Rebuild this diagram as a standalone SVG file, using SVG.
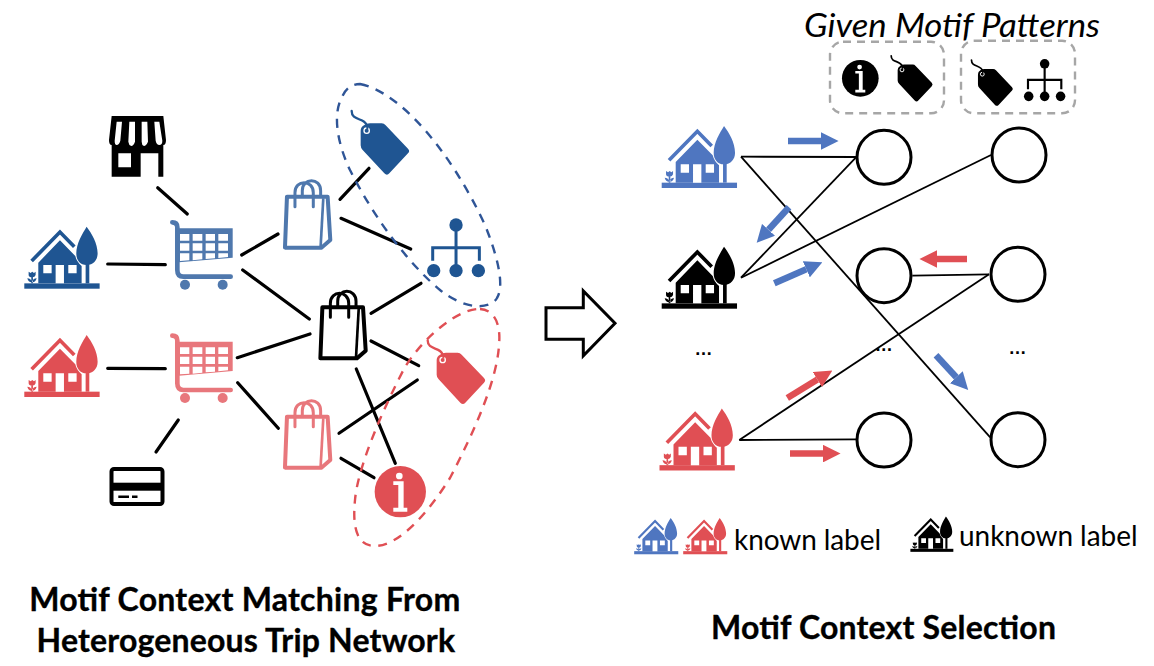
<svg xmlns="http://www.w3.org/2000/svg" width="1154" height="666" viewBox="0 0 1154 666">
<style>
text{font-family:"Lato","Open Sans","Liberation Sans",sans-serif;fill:#000}
.title{font-size:32px;font-weight:700;text-anchor:middle;stroke:#000;stroke-width:.35}
.dots{font-family:"Liberation Sans",sans-serif;font-size:18px;font-weight:700;text-anchor:middle}
.k{color:#000}.db{color:#1f5592}.dr{color:#e04f54}.mb{color:#4f78ad}.pr{color:#e8777c}.rb{color:#4f76c0}
.edge{stroke:#000;stroke-width:3.2;stroke-linecap:round;fill:none}
.thin{stroke:#000;stroke-width:1.8;fill:none}
.node{fill:#fff;stroke:#000;stroke-width:3}
.ab{stroke:#4f76c0;stroke-width:6.5;marker-end:url(#hb)}
.ar{stroke:#e04f54;stroke-width:6.5;marker-end:url(#hr)}
.box{fill:none;stroke:#a6a6a6;stroke-width:2.4;stroke-dasharray:8 6}
.motif{fill:none;stroke-width:2.4;stroke-dasharray:9 7.500}
</style>
<defs>
<marker id="hb" markerUnits="strokeWidth" viewBox="0 0 2.7 2.7" refX="0" refY="1.35" markerWidth="2.7" markerHeight="2.7" orient="auto"><path d="M0,0L2.7,1.35L0,2.7Z" fill="#4f76c0"/></marker>
<marker id="hr" markerUnits="strokeWidth" viewBox="0 0 2.7 2.7" refX="0" refY="1.35" markerWidth="2.7" markerHeight="2.7" orient="auto"><path d="M0,0L2.7,1.35L0,2.7Z" fill="#e04f54"/></marker>
<g id="house" transform="translate(-73,-410)">
<rect x="73" y="580" width="226" height="16" fill="currentColor"/>
<path d="M95,513L180,426L223,470" fill="none" stroke="currentColor" stroke-width="11"/>
<path d="M115,518L180,451L226,498Q230,515 245,528L245,580L115,580Z" fill="currentColor"/>
<path d="M130,525h25v25h-25zM167,525h25v55h-25zM205,525h25v25h-25z" fill="#fff"/>
<path d="M260,410C275,430 293,460 293,490C293,510 280,525 260,525C240,525 229,510 229,490C229,460 248,430 260,410Z" fill="currentColor"/>
<rect x="257" y="520" width="11" height="60" fill="currentColor"/>
<path d="M86,545l6,4l5,-4l5,4l5,-4v10q-2,7 -10,7q-11,0 -11,-7zM94,560h5v20h-5zM82,565q10,0 13,9v3q-10,0 -13,-12zM110,565q-10,0 -13,9v3q10,0 13,-12z" fill="currentColor"/>
</g>
<g id="cart" transform="translate(-510,-390)">
<path d="M517,397Q532,397 532,412L532,540Q532,560 550,560L692,560" fill="none" stroke="currentColor" stroke-width="14" stroke-linecap="round"/>
<path d="M530,415H698V503L537,517Z" fill="currentColor"/>
<path d="M540,432h28v20h-28zM578,432h29v20h-29zM617,432h28v20h-28zM655,432h29v20h-29zM540,460h28v22h-28zM578,460h29v22h-29zM617,460h28v22h-28zM655,460h29v22h-29zM540,490h28v21l-28,2zM578,490h29v18l-29,3zM617,490h28v15l-28,2zM655,490h29v11l-29,3z" fill="#fff"/>
<circle cx="555" cy="584" r="15" fill="currentColor"/>
<circle cx="668" cy="584" r="15" fill="currentColor"/>
</g>
<g id="bag" transform="translate(-40,-328)">
<path d="M51,380L45,533H155L181,510L173,380Z" fill="none" stroke="currentColor" stroke-width="12" stroke-linejoin="round"/>
<path d="M160,385L152,530" fill="none" stroke="currentColor" stroke-width="8"/>
<path d="M75,410V368C75,328 130,328 130,368V410M97,378V362C97,322 152,322 152,362V378" fill="none" stroke="currentColor" stroke-width="9" stroke-linecap="round"/>
</g>
<g id="tag" transform="translate(-243,-120)">
<path d="M245,123C245,155 285,140 292,170" fill="none" stroke="currentColor" stroke-width="7" stroke-linecap="round"/>
<path d="M272,182Q272,172 282,166Q288,160 300,160H335Q342,160 347,166L414,236Q421,243 414,250L358,310Q351,318 343,310L278,240Q272,234 272,226Z" fill="currentColor"/>
<circle cx="290" cy="182" r="8" fill="none" stroke="#fff" stroke-width="4"/>
<path d="M292,168V178" stroke="currentColor" stroke-width="6"/>
</g>
<g id="org" transform="translate(-470,-445)">
<circle cx="558" cy="465" r="20" fill="currentColor"/>
<circle cx="491" cy="602" r="20" fill="currentColor"/>
<circle cx="558" cy="602" r="20" fill="currentColor"/>
<circle cx="625" cy="602" r="20" fill="currentColor"/>
<path d="M558,470V590M488,572V533H628V572" fill="none" stroke="currentColor" stroke-width="9"/>
</g>
<g id="info">
<circle r="77" fill="currentColor"/>
<circle cx="-3" cy="-47" r="10" fill="#fff"/>
<path d="M-21,-31H10V48H21V60H-21V48H-6V-20H-21Z" fill="#fff"/>
</g>
</defs>

<g id="connectors">
<g id="left-edges">
<path class="edge" d="M157.700,187.700L187.300,214"/>
<path class="edge" d="M107.700,264L165.300,264.700"/>
<path class="edge" d="M241.700,255L278,234"/>
<path class="edge" d="M242.700,270L309.300,319"/>
<path class="edge" d="M237.300,357.700L310,334"/>
<path class="edge" d="M237.700,382.700L278.300,428.300"/>
<path class="edge" d="M107.700,368.300L165.300,368.700"/>
<path class="edge" d="M156,452L178.300,420"/>
<path class="edge" d="M340,199.300L369,168.300"/>
<path class="edge" d="M341,218.300L410.700,249"/>
<path class="edge" d="M371,313.300L421,283.300"/>
<path class="edge" d="M371,341L418.700,365.700"/>
<path class="edge" d="M356.300,369L395.300,463.300"/>
<path class="edge" d="M339,433.300L417.300,380"/>
<path class="edge" d="M341,458.300L374,477.700"/>
</g>
<g id="right-edges">
<path class="thin" d="M741,156.700L856,157"/>
<path class="thin" d="M741,156.700L990.200,437.400"/>
<path class="thin" d="M741,277.700L856,157.300"/>
<path class="thin" d="M741,277.700L991,155"/>
<path class="thin" d="M739.300,440L856,439.400"/>
<path class="thin" d="M739.300,440L989,274.300"/>
<path class="thin" d="M912.300,275.700L989,274.300"/>
</g>
<g id="flow-arrows">
<line class="ab" x1="788" y1="141" x2="821" y2="141"/>
<line class="ab" x1="789" y1="207.300" x2="768.500" y2="229.800"/>
<line class="ab" x1="774.300" y1="283.300" x2="806.300" y2="269.300"/>
<line class="ar" x1="967" y1="259" x2="937" y2="259"/>
<line class="ab" x1="936" y1="355.200" x2="956.300" y2="377.200"/>
<line class="ar" x1="787.300" y1="398.100" x2="817.400" y2="379.600"/>
<line class="ar" x1="790" y1="453.600" x2="823" y2="453.600"/>
</g>
</g>

<g id="motif-blue"><path class="motif" stroke="#2f5597" d="M360,84C400,92 450,150 485,225C497,255 505,285 497,298C490,310 465,310 440,290C410,265 375,220 350,170C338,145 332,115 342,97C346,88 352,84 360,84Z"/></g>
<g id="motif-red"><path class="motif" stroke="#e04f54" d="M480,309C495,310 501,325 499,345C497,380 475,430 450,478C430,510 400,546 375,546C358,546 352,530 355,500C358,465 385,405 405,367C425,335 460,308 480,309Z"/></g>

<g id="store" transform="translate(100,110) scale(.3333)">
<path d="M35,18H190L198,90Q198,105 190,105V200H175V130H122V200H35V105Q27,105 27,90Z" fill="#000"/>
<path d="M50,35H66L61,92Q57,105 50,105Q44,105 44,92ZM88,35H105V95Q100,108 94,108Q86,105 85,95ZM125,35H142L144,95Q138,108 132,108Q125,105 125,95ZM163,35H178L187,92Q187,105 178,105Q170,105 167,92ZM55,130H93V172H55Z" fill="#fff"/>
</g>
<g id="trip-house-blue" class="db"><use href="#house" transform="translate(24.300,226.700) scale(.3333)"/></g>
<g id="trip-house-red" class="dr"><use href="#house" transform="translate(24.300,335) scale(.3333)"/></g>
<g id="cart-blue" class="mb"><use href="#cart" transform="translate(170,220) scale(.3333)"/></g>
<g id="cart-red" class="pr"><use href="#cart" transform="translate(170,333.300) scale(.3333)"/></g>
<g id="card"><rect x="111.500" y="469" width="51" height="35" rx="2.500" fill="#fff" stroke="#000" stroke-width="4"/><rect x="110" y="482.700" width="54" height="8" fill="#000"/><path d="M118.300,495.500h10.700v2.500h-10.700zM132,495.500h5.500v2.500h-5.500z" fill="#000"/></g>
<g id="bag-blue" class="mb"><use href="#bag" transform="translate(283.300,179.300) scale(.3333)"/></g>
<g id="bag-black" class="k"><use href="#bag" transform="translate(318.700,290) scale(.3333)"/></g>
<g id="bag-red" class="pr"><use href="#bag" transform="translate(283.300,399.300) scale(.3333)"/></g>
<g id="tag-blue" class="db"><use href="#tag" transform="translate(351,110) scale(.3333)"/></g>
<g id="org-blue" class="db"><use href="#org" transform="translate(426.700,218.300) scale(.3333)"/></g>
<g id="tag-red" class="dr"><use href="#tag" transform="translate(427,339.300) scale(.3333)"/></g>
<g id="info-red" class="dr"><use href="#info" transform="translate(400.300,491.700) scale(.3333)"/></g>

<g id="arrow-main"><path d="M546,307.700H583.300V291L615,323.300L583.300,355.700V339.300H546Z" fill="#fff" stroke="#000" stroke-width="3"/></g>

<text x="952" y="36.500" font-size="32" font-style="italic" text-anchor="middle" textLength="296" lengthAdjust="spacingAndGlyphs">Given Motif Patterns</text>
<g id="pattern-1"><rect class="box" x="830" y="41.700" width="114" height="71.600" rx="13"/><g class="k"><use href="#info" transform="translate(860.300,78.300) scale(.238)"/><use href="#tag" transform="translate(890.700,55) scale(.24)"/></g></g>
<g id="pattern-2"><rect class="box" x="961" y="40.700" width="114" height="72.600" rx="13"/><g class="k"><use href="#tag" transform="translate(971,59.300) scale(.24)"/><use href="#org" transform="translate(1023.700,59) scale(.238)"/></g></g>

<g id="house-blue" class="rb"><use href="#house" transform="translate(661.700,126) scale(.3333)"/></g>
<g id="house-black" class="k"><use href="#house" transform="translate(661.700,246.700) scale(.3333)"/></g>
<g id="house-red" class="dr"><use href="#house" transform="translate(659.500,408.500) scale(.3333)"/></g>

<g id="c1"><circle class="node" cx="884" cy="157.300" r="27"/></g>
<g id="c2"><circle class="node" cx="1019" cy="155" r="27"/></g>
<g id="c3"><circle class="node" cx="884" cy="275.700" r="27"/></g>
<g id="c4"><circle class="node" cx="1018" cy="274.300" r="27"/></g>
<g id="c5"><circle class="node" cx="884" cy="440" r="27"/></g>
<g id="c6"><circle class="node" cx="1018" cy="439.700" r="27"/></g>

<text class="dots" x="703.500" y="355">…</text>
<text class="dots" x="883.700" y="351">…</text>
<text class="dots" x="1017.600" y="354">…</text>

<g id="legend-blue" class="rb"><use href="#house" transform="translate(634.200,518) scale(.195)"/></g>
<g id="legend-red" class="dr"><use href="#house" transform="translate(683.200,518) scale(.195)"/></g>
<g id="legend-black" class="k"><use href="#house" transform="translate(910.400,516.500) scale(.19)"/></g>
<text x="734" y="549.500" font-size="28" textLength="147" lengthAdjust="spacing">known label</text>
<text x="959" y="545.500" font-size="28" textLength="178.500" lengthAdjust="spacing">unknown label</text>

<text class="title" x="244.700" y="611" textLength="431" lengthAdjust="spacing">Motif Context Matching From</text>
<text class="title" x="245.800" y="652.300" textLength="418.500" lengthAdjust="spacing">Heterogeneous Trip Network</text>
<text class="title" x="883.500" y="638.500" textLength="345" lengthAdjust="spacing">Motif Context Selection</text>
</svg>
